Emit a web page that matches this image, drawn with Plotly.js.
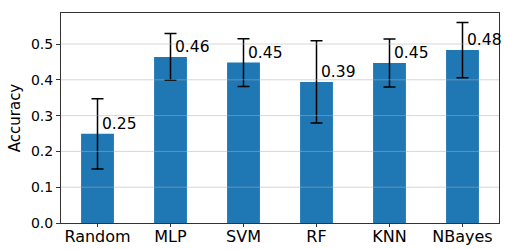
<!DOCTYPE html>
<html>
<head>
<meta charset="utf-8">
<script src="https://cdn.plot.ly/plotly-3.0.1.min.js"></script>
<style>
html,body{margin:0;padding:0;background:#fff;}
#chart{width:505px;height:249px;}
</style>
</head>
<body>
<div id="chart"></div>
<script>
const categories = ["Random", "MLP", "SVM", "RF", "KNN", "NBayes"];
const accuracy = [0.249, 0.464, 0.448, 0.394, 0.447, 0.483];
const errors = [0.098, 0.065, 0.067, 0.115, 0.067, 0.077];
const yTickVals = [0.0, 0.1, 0.2, 0.3, 0.4, 0.5];
const yTickText = ["0.0", "0.1", "0.2", "0.3", "0.4", "0.5"];
const gridVals = [0.1, 0.2, 0.3, 0.4, 0.5];

const font = "DejaVu Sans, sans-serif";

const trace = {
  type: "bar",
  x: categories,
  y: accuracy,
  width: 0.45,
  marker: {color: "#1f77b4", line: {width: 0}},
  error_y: {type: "data", array: errors, visible: true, color: "#000000", thickness: 1.5, width: 6},
  hoverinfo: "none"
};

const annotations = categories.map((c, i) => ({
  x: c, y: accuracy[i], xref: "x", yref: "y",
  text: accuracy[i].toFixed(2),
  showarrow: false, xanchor: "left", yanchor: "bottom",
  xshift: 2, yshift: -1,
  font: {family: font, size: 15.5, color: "#000"}
}));

const shapes = gridVals.map(v => ({
  type: "line", xref: "paper", x0: 0, x1: 1, yref: "y", y0: v, y1: v,
  line: {color: "rgba(176,176,176,0.5)", width: 1}, layer: "above"
}));

const layout = {
  width: 505, height: 249,
  margin: {l: 61, r: 6, t: 13, b: 26, pad: 0},
  paper_bgcolor: "#fff", plot_bgcolor: "#fff",
  showlegend: false,
  font: {family: font, color: "#000"},
  xaxis: {
    type: "category", range: [-0.5, 5.5],
    showline: true, mirror: true, linecolor: "#333", linewidth: 1,
    ticks: "outside", ticklen: 3, tickcolor: "#333", tickwidth: 1,
    ticklabelstandoff: -4,
    tickfont: {family: font, size: 16, color: "#000"},
    showgrid: false, zeroline: false, fixedrange: true
  },
  yaxis: {
    range: [0, 0.5866],
    tickvals: yTickVals, ticktext: yTickText,
    showline: true, mirror: true, linecolor: "#333", linewidth: 1,
    ticks: "outside", ticklen: 4, tickcolor: "#333", tickwidth: 1,
    tickfont: {family: font, size: 14, color: "#000"},
    showgrid: false, zeroline: false, fixedrange: true,
    title: {text: "Accuracy", font: {family: font, size: 15, color: "#000"}, standoff: 6}
  },
  annotations: annotations,
  shapes: shapes
};

Plotly.newPlot("chart", [trace], layout, {displayModeBar: false, staticPlot: true});
</script>
</body>
</html>
